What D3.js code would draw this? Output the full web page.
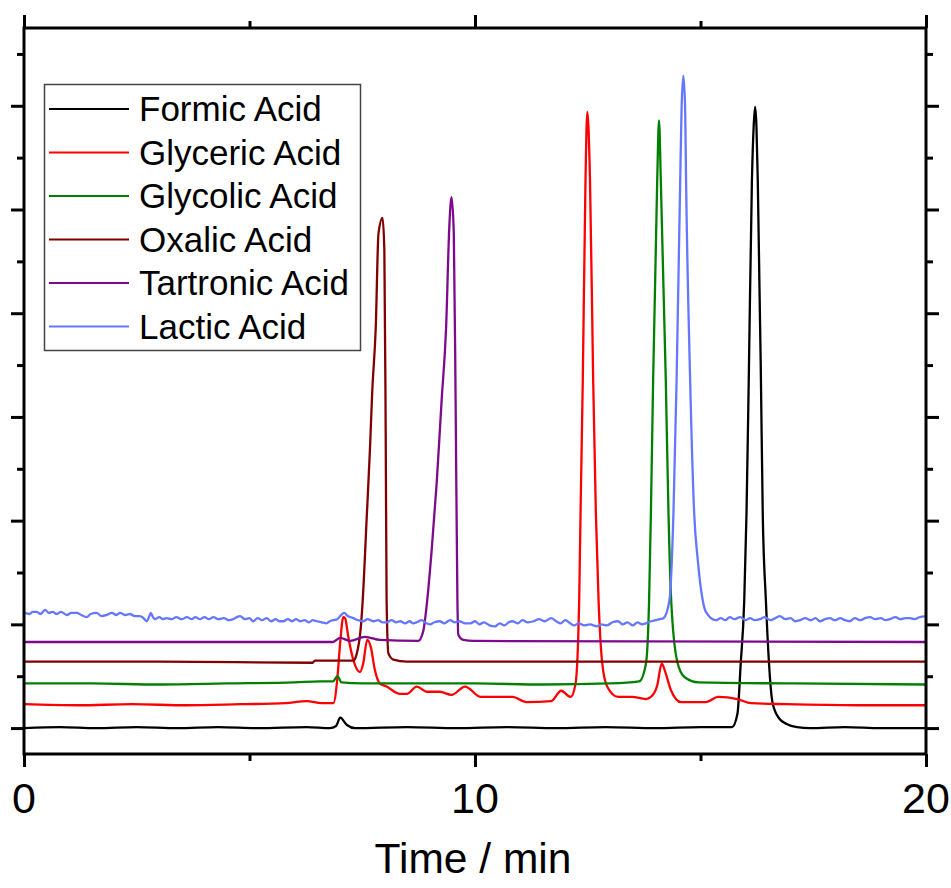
<!DOCTYPE html>
<html>
<head>
<meta charset="utf-8">
<script src="https://cdn.jsdelivr.net/npm/d3@7"></script>
<style>
  html, body { margin: 0; padding: 0; background: #ffffff; }
  svg { display: block; }
  text { font-family: "Liberation Sans", Arial, Helvetica, sans-serif; fill: #000; }
</style>
</head>
<body>
<svg id="chart" width="951" height="888"></svg>
<script>
// ---------------- DATA ----------------
const seriesNames = ["Formic Acid", "Glyceric Acid", "Glycolic Acid", "Oxalic Acid", "Tartronic Acid", "Lactic Acid"];
const seriesColors = ["#000000", "#ff0000", "#008000", "#800000", "#7d0a8c", "#6677ff"];

// [time (min), signal (a.u.)]
const formicData = [
  [0,0.00],[0.8,0.01],[1.6,0.00],[2.5,0.01],[3.4,0.00],[4.3,0.01],[5.2,0.00],[6.27,0.01],[6.78,0.00],
  [6.92,0.02],[7.01,0.10],[7.16,0.03],[7.34,0.00],[8.5,0.01],[9.6,0.00],[10.7,0.01],[11.8,0.00],
  [12.9,0.01],[14.0,0.00],[15.0,0.01],[15.70,0.01],[15.82,0.14],[15.89,0.61],[15.97,1.23],[16.02,2.07],
  [16.07,3.36],[16.14,5.28],[16.18,5.81],[16.21,5.99],[16.24,5.81],[16.27,5.28],[16.34,3.36],[16.38,2.07],
  [16.45,1.23],[16.60,0.24],[16.75,0.09],[16.91,0.04],[17.14,0.01],[17.43,0.00],[18.2,0.01],[19.0,0.00],[20,0.00]
];
const glycericData = [
  [0,0.23],[1.2,0.22],[2.4,0.23],[3.6,0.22],[4.8,0.23],[5.8,0.24],[6.27,0.26],[6.6,0.24],[6.86,0.24],
  [6.95,0.49],[7.01,0.82],[7.08,1.07],[7.12,1.06],[7.19,0.88],[7.30,0.66],[7.45,0.54],[7.52,0.62],
  [7.61,0.85],[7.69,0.78],[7.78,0.56],[7.89,0.43],[8.04,0.40],[8.34,0.33],[8.49,0.33],[8.71,0.40],
  [8.93,0.35],[9.22,0.35],[9.48,0.32],[9.78,0.40],[10.13,0.30],[10.83,0.30],[11.14,0.25],[11.69,0.26],
  [11.91,0.36],[12.12,0.30],[12.23,0.43],[12.31,1.23],[12.34,2.07],[12.39,3.36],[12.45,5.28],[12.49,5.94],
  [12.55,5.28],[12.62,3.36],[12.68,2.07],[12.74,1.23],[12.82,0.63],[12.93,0.40],[13.17,0.30],[13.48,0.30],
  [13.79,0.28],[13.90,0.30],[14.04,0.41],[14.14,0.62],[14.22,0.54],[14.34,0.37],[14.57,0.25],[15.12,0.25],
  [15.39,0.30],[15.82,0.28],[16.12,0.24],[16.91,0.23],[18.5,0.22],[20,0.22]
];
const glycolicData = [
  [0,0.43],[1.5,0.43],[3,0.42],[4.5,0.43],[6,0.44],[6.56,0.45],[6.85,0.45],[6.95,0.50],[7.04,0.44],
  [7.5,0.43],[8.34,0.43],[10,0.43],[11.5,0.42],[13,0.43],[13.64,0.45],[13.79,0.62],[13.86,1.23],
  [13.90,2.07],[13.95,3.36],[14.04,5.28],[14.08,5.86],[14.12,5.28],[14.23,3.36],[14.29,2.07],[14.35,1.23],
  [14.49,0.63],[14.65,0.49],[14.96,0.44],[17,0.43],[20,0.42]
];
const oxalicData = [
  [0,0.64],[3,0.64],[6.4,0.63],[6.45,0.65],[7.30,0.65],[7.38,0.72],[7.47,0.98],[7.51,1.23],[7.60,2.04],
  [7.67,2.68],[7.72,3.23],[7.80,3.87],[7.86,4.77],[7.95,4.92],[7.99,4.61],[8.02,2.84],[8.04,1.23],
  [8.08,0.72],[8.19,0.66],[8.49,0.64],[20,0.64]
];
const tartronicData = [
  [0,0.83],[3,0.83],[6.85,0.83],[7.01,0.87],[7.23,0.84],[7.56,0.88],[7.89,0.85],[8.74,0.84],[8.85,0.93],
  [8.94,1.23],[9.04,1.72],[9.15,2.36],[9.26,3.16],[9.36,3.87],[9.43,4.83],[9.48,5.12],[9.53,4.77],
  [9.57,3.16],[9.61,1.23],[9.63,0.90],[9.74,0.85],[9.97,0.84],[20,0.83]
];
const lacticData = [
  [0.02,1.11],[0.12,1.10],[0.2,1.12],[0.28,1.12],[0.36,1.10],[0.47,1.14],[0.55,1.11],[0.63,1.12],[0.73,1.10],
  [0.82,1.12],[0.95,1.09],[1.05,1.11],[1.17,1.11],[1.27,1.09],[1.39,1.07],[1.48,1.10],[1.61,1.11],[1.72,1.08],
  [1.83,1.09],[1.95,1.11],[2.05,1.09],[2.13,1.11],[2.25,1.09],[2.35,1.10],[2.45,1.08],[2.57,1.08],[2.65,1.06],
  [2.72,1.03],[2.78,1.08],[2.81,1.11],[2.86,1.07],[2.90,1.05],[3.0,1.07],[3.08,1.05],[3.16,1.06],[3.27,1.05],
  [3.38,1.07],[3.5,1.05],[3.61,1.07],[3.72,1.05],[3.80,1.07],[3.90,1.05],[4.0,1.07],[4.1,1.05],[4.20,1.07],
  [4.32,1.05],[4.43,1.06],[4.55,1.04],[4.64,1.05],[4.72,1.07],[4.79,1.08],[4.9,1.05],[5.0,1.06],[5.08,1.03],
  [5.18,1.06],[5.28,1.04],[5.38,1.06],[5.48,1.03],[5.58,1.05],[5.66,1.03],[5.75,1.03],[5.85,1.05],[5.95,1.03],
  [6.03,1.05],[6.12,1.03],[6.22,1.04],[6.32,1.02],[6.40,1.04],[6.49,1.03],[6.6,1.02],[6.71,1.01],[6.78,1.03],
  [6.86,1.04],[6.95,1.05],[7.03,1.09],[7.10,1.11],[7.18,1.08],[7.30,1.06],[7.4,1.04],[7.52,1.03],[7.62,1.05],
  [7.75,1.03],[7.85,1.04],[7.95,1.02],[8.04,1.02],[8.15,1.04],[8.25,1.02],[8.34,1.03],[8.45,1.01],[8.55,1.03],
  [8.63,1.01],[8.71,1.02],[8.82,1.04],[8.92,1.01],[9.00,1.00],[9.1,1.02],[9.22,1.03],[9.32,1.01],[9.45,1.04],
  [9.55,1.02],[9.65,1.03],[9.78,1.01],[9.90,1.01],[10.0,1.03],[10.1,1.00],[10.2,1.02],[10.32,0.99],[10.44,0.98],
  [10.55,1.01],[10.65,0.99],[10.75,1.02],[10.83,1.03],[10.95,1.01],[11.05,1.04],[11.17,1.02],[11.30,1.03],
  [11.42,1.05],[11.55,1.03],[11.69,1.06],[11.8,1.03],[11.9,1.01],[12.0,1.04],[12.08,1.02],[12.2,0.99],
  [12.3,1.01],[12.42,0.99],[12.55,1.00],[12.70,0.98],[12.8,1.00],[12.92,0.99],[13.05,1.02],[13.17,1.03],
  [13.28,1.00],[13.38,1.02],[13.5,0.99],[13.6,1.02],[13.70,1.00],[13.79,1.01],[13.9,1.03],[14.0,1.04],
  [14.1,1.05],[14.18,1.06],[14.31,1.23],[14.40,2.07],[14.47,3.36],[14.55,5.28],[14.58,5.96],[14.62,6.29],
  [14.66,5.96],[14.68,5.28],[14.77,3.36],[14.86,2.07],[14.94,1.62],[15.05,1.23],[15.12,1.12],[15.34,1.04],
  [15.45,1.06],[15.55,1.04],[15.65,1.07],[15.75,1.05],[15.88,1.07],[16.0,1.04],[16.1,1.06],[16.2,1.04],
  [16.32,1.05],[16.42,1.07],[16.55,1.04],[16.66,1.06],[16.76,1.08],[16.88,1.05],[17.0,1.06],[17.1,1.03],
  [17.21,1.04],[17.32,1.06],[17.45,1.04],[17.55,1.06],[17.65,1.03],[17.76,1.05],[17.87,1.06],[17.98,1.04],
  [18.1,1.06],[18.2,1.04],[18.31,1.03],[18.42,1.06],[18.55,1.04],[18.65,1.06],[18.76,1.07],[18.87,1.05],
  [19.0,1.06],[19.1,1.04],[19.20,1.05],[19.32,1.07],[19.44,1.05],[19.54,1.06],[19.64,1.06],[19.75,1.05],
  [19.86,1.07],[20,1.08]
];
const seriesData = [formicData, glycericData, glycolicData, oxalicData, tartronicData, lacticData];

const xDomain = [0, 20];
const yDomain = [-0.25, 6.75];
const xMajorTicks = [0, 10, 20];
const xMinorTicks = [5, 15];
const xTickLabels = ["0", "10", "20"];
const yMajorTicks = [0, 1, 2, 3, 4, 5, 6];
const yMinorTicks = [0.5, 1.5, 2.5, 3.5, 4.5, 5.5, 6.5];
const xAxisTitle = "Time / min";

// ---------------- LAYOUT ----------------
const plot = { left: 24, right: 926, top: 28, bottom: 754 };
const svg = d3.select("#chart");

const x = d3.scaleLinear().domain(xDomain).range([plot.left, plot.right]);
const y = d3.scaleLinear().domain(yDomain).range([plot.bottom, plot.top]);

svg.append("defs").append("clipPath").attr("id", "clip")
  .append("rect")
  .attr("x", plot.left).attr("y", plot.top)
  .attr("width", plot.right - plot.left).attr("height", plot.bottom - plot.top);

// ---------------- SERIES ----------------
const line = d3.line()
  .x(d => x(d[0]))
  .y(d => y(d[1]))
  .curve(d3.curveMonotoneX);

const gLines = svg.append("g").attr("clip-path", "url(#clip)");
seriesData.forEach((data, i) => {
  gLines.append("path")
    .datum(data)
    .attr("d", line)
    .attr("fill", "none")
    .attr("stroke", seriesColors[i])
    .attr("stroke-width", 2.3)
    .attr("stroke-linejoin", "round");
});

// ---------------- AXES ----------------
function styleAxis(g) {
  g.select(".domain").remove();
  g.selectAll(".tick line").attr("stroke", "#000").attr("stroke-width", 3);
  g.selectAll(".tick text").remove();
}
const major = 13, minor = 7;

svg.append("g").attr("transform", `translate(${plot.left},0)`)
  .call(d3.axisLeft(y).tickValues(yMajorTicks).tickSize(major).tickFormat("")).call(styleAxis);
svg.append("g").attr("transform", `translate(${plot.left},0)`)
  .call(d3.axisLeft(y).tickValues(yMinorTicks).tickSize(minor).tickFormat("")).call(styleAxis);
svg.append("g").attr("transform", `translate(${plot.right},0)`)
  .call(d3.axisRight(y).tickValues(yMajorTicks).tickSize(major).tickFormat("")).call(styleAxis);
svg.append("g").attr("transform", `translate(${plot.right},0)`)
  .call(d3.axisRight(y).tickValues(yMinorTicks).tickSize(minor).tickFormat("")).call(styleAxis);

svg.append("g").attr("transform", `translate(0,${plot.bottom})`)
  .call(d3.axisBottom(x).tickValues(xMajorTicks).tickSize(major).tickFormat("")).call(styleAxis);
svg.append("g").attr("transform", `translate(0,${plot.bottom})`)
  .call(d3.axisBottom(x).tickValues(xMinorTicks).tickSize(minor).tickFormat("")).call(styleAxis);
svg.append("g").attr("transform", `translate(0,${plot.top})`)
  .call(d3.axisTop(x).tickValues(xMajorTicks).tickSize(major).tickFormat("")).call(styleAxis);
svg.append("g").attr("transform", `translate(0,${plot.top})`)
  .call(d3.axisTop(x).tickValues(xMinorTicks).tickSize(minor).tickFormat("")).call(styleAxis);

// frame
svg.append("rect")
  .attr("x", plot.left).attr("y", plot.top)
  .attr("width", plot.right - plot.left).attr("height", plot.bottom - plot.top)
  .attr("fill", "none").attr("stroke", "#000").attr("stroke-width", 3);

// tick labels
svg.append("g").selectAll("text")
  .data(xMajorTicks)
  .join("text")
  .attr("x", d => x(d))
  .attr("y", 813)
  .attr("text-anchor", "middle")
  .attr("font-size", 43)
  .text((d, i) => xTickLabels[i]);

// axis title
svg.append("text")
  .attr("x", 473)
  .attr("y", 873)
  .attr("text-anchor", "middle")
  .attr("font-size", 42.5)
  .text(xAxisTitle);

// ---------------- LEGEND ----------------
const legend = svg.append("g");
legend.append("rect")
  .attr("x", 44.5).attr("y", 84.5)
  .attr("width", 316).attr("height", 266)
  .attr("fill", "#fff").attr("stroke", "#444").attr("stroke-width", 1.5);

const rowY = d3.scaleLinear().domain([0, seriesNames.length - 1]).range([109, 326.5]);
seriesNames.forEach((name, i) => {
  legend.append("line")
    .attr("x1", 49).attr("x2", 129)
    .attr("y1", rowY(i)).attr("y2", rowY(i))
    .attr("stroke", seriesColors[i]).attr("stroke-width", 2);
  legend.append("text")
    .attr("x", 139)
    .attr("y", rowY(i) + 12)
    .attr("font-size", 35)
    .text(name);
});
</script>
</body>
</html>
